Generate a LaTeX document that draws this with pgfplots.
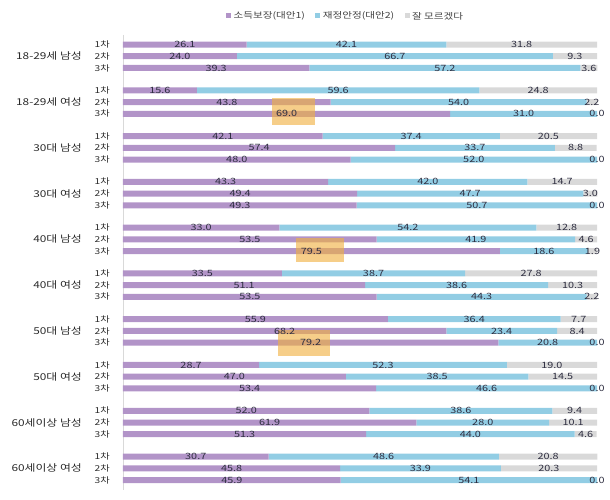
\documentclass[border=0pt]{standalone}
\usepackage{pgfplots}
\pgfplotsset{compat=1.18}
\usepackage{pgfplotstable}
\usepackage{fontspec}
\setmainfont{Noto Sans CJK KR}[FakeStretch=1.25]
\definecolor{cpur}{HTML}{B294C8}
\definecolor{cblu}{HTML}{92CDE4}
\definecolor{cgry}{HTML}{D9D9D9}
\definecolor{chl}{HTML}{F0B040}
\definecolor{ctx}{HTML}{2E2E40}
\definecolor{clt}{HTML}{2A2A2A}

\pgfplotstableread{
y a b c
0 26.1 42.1 31.8
1 24.0 66.7 9.3
2 39.3 57.2 3.6
3.9 15.6 59.6 24.8
4.9 43.8 54.0 2.2
5.9 69.0 31.0 0.0
7.8 42.1 37.4 20.5
8.8 57.4 33.7 8.8
9.8 48.0 52.0 0.0
11.7 43.3 42.0 14.7
12.7 49.4 47.7 3.0
13.7 49.3 50.7 0.0
15.6 33.0 54.2 12.8
16.6 53.5 41.9 4.6
17.6 79.5 18.6 1.9
19.5 33.5 38.7 27.8
20.5 51.1 38.6 10.3
21.5 53.5 44.3 2.2
23.4 55.9 36.4 7.7
24.4 68.2 23.4 8.4
25.4 79.2 20.8 0.0
27.3 28.7 52.3 19.0
28.3 47.0 38.5 14.5
29.3 53.4 46.6 0.0
31.2 52.0 38.6 9.4
32.2 61.9 28.0 10.1
33.2 51.3 44.0 4.6
35.1 30.7 48.6 20.8
36.1 45.8 33.9 20.3
37.1 45.9 54.1 0.0
}\tabdata

\pgfplotsset{mybase/.style={
  scale only axis, width=474bp, height=455bp,
  xmin=0, xmax=100, ymin=-0.81, ymax=37.95, y dir=reverse,
  clip=false, anchor=south west, at={(0,0)}
}}
\tikzset{grp/.style={anchor=east, inner sep=0pt, xshift=-41bp, font=\fontsize{9.5}{10}\selectfont, text=clt}}

\begin{document}
\begin{tikzpicture}
\path[use as bounding box] (-123bp,-10bp) rectangle (487bp,490bp);
\begin{axis}[mybase, xbar stacked, bar width=6bp,
  axis x line=none, axis y line*=left,
  y axis line style={draw=cgry, line width=0.8bp},
  ytick={0,1,2,3.9,4.9,5.9,7.8,8.8,9.8,11.7,12.7,13.7,15.6,16.6,17.6,19.5,20.5,21.5,23.4,24.4,25.4,27.3,28.3,29.3,31.2,32.2,33.2,35.1,36.1,37.1},
  yticklabels={1차,2차,3차,1차,2차,3차,1차,2차,3차,1차,2차,3차,1차,2차,3차,1차,2차,3차,1차,2차,3차,1차,2차,3차,1차,2차,3차,1차,2차,3차},
  major tick length=0pt,
  yticklabel style={font=\fontsize{8.2}{8.5}\selectfont, text=clt, inner sep=0pt, anchor=east, xshift=-13bp},
]
\addplot[draw=none, fill=cpur] table[x=a, y=y] {\tabdata};
\addplot[draw=none, fill=cblu] table[x=b, y=y] {\tabdata};
\addplot[draw=none, fill=cgry] table[x=c, y=y] {\tabdata};
\node[grp] at (axis cs:0,1) {18-29세 남성};
\node[grp] at (axis cs:0,4.9) {18-29세 여성};
\node[grp] at (axis cs:0,8.8) {30대 남성};
\node[grp] at (axis cs:0,12.7) {30대 여성};
\node[grp] at (axis cs:0,16.6) {40대 남성};
\node[grp] at (axis cs:0,20.5) {40대 여성};
\node[grp] at (axis cs:0,24.4) {50대 남성};
\node[grp] at (axis cs:0,28.3) {50대 여성};
\node[grp] at (axis cs:0,32.2) {60세이상 남성};
\node[grp] at (axis cs:0,36.1) {60세이상 여성};
\end{axis}
\begin{axis}[mybase, hide axis,
  nodes near coords, point meta=explicit symbolic,
  every node near coord/.append style={anchor=center, font=\fontsize{8.7}{9}\selectfont, text=ctx, inner sep=0pt},
]
\fill[chl, opacity=0.62] (axis cs:31.4,4.56) rectangle (axis cs:40.6,6.86);
\fill[chl, opacity=0.62] (axis cs:36.6,16.46) rectangle (axis cs:46.7,18.55);
\fill[chl, opacity=0.62] (axis cs:32.7,24.3) rectangle (axis cs:43.7,26.5);
\addplot[only marks, mark=*, mark size=0pt, mark options={draw=none, fill=none}] table[x expr=\thisrow{a}/2, y=y, meta=a] {\tabdata};
\addplot[only marks, mark=*, mark size=0pt, mark options={draw=none, fill=none}] table[x expr=\thisrow{a}+\thisrow{b}/2, y=y, meta=b] {\tabdata};
\addplot[only marks, mark=*, mark size=0pt, mark options={draw=none, fill=none}] table[x expr=\thisrow{a}+\thisrow{b}+\thisrow{c}/2, y=y, meta=c] {\tabdata};
\end{axis}
\node[fill=cpur, minimum size=5bp, inner sep=0pt, anchor=west] (s1) at (103bp,474bp) {};
\node[anchor=west, inner sep=0pt, font=\fontsize{8.5}{9}\selectfont, text=darkgray] (l1) at ([xshift=2bp]s1.east) {소득보장(대안1)};
\node[fill=cblu, minimum size=5bp, inner sep=0pt, anchor=west] (s2) at ([xshift=10bp]l1.east) {};
\node[anchor=west, inner sep=0pt, font=\fontsize{8.5}{9}\selectfont, text=darkgray] (l2) at ([xshift=2bp]s2.east) {재정안정(대안2)};
\node[fill=cgry, minimum size=5bp, inner sep=0pt, anchor=west] (s3) at ([xshift=10bp]l2.east) {};
\node[anchor=west, inner sep=0pt, font=\fontsize{8.5}{9}\selectfont, text=darkgray] (l3) at ([xshift=2bp]s3.east) {잘 모르겠다};
\end{tikzpicture}
\end{document}
